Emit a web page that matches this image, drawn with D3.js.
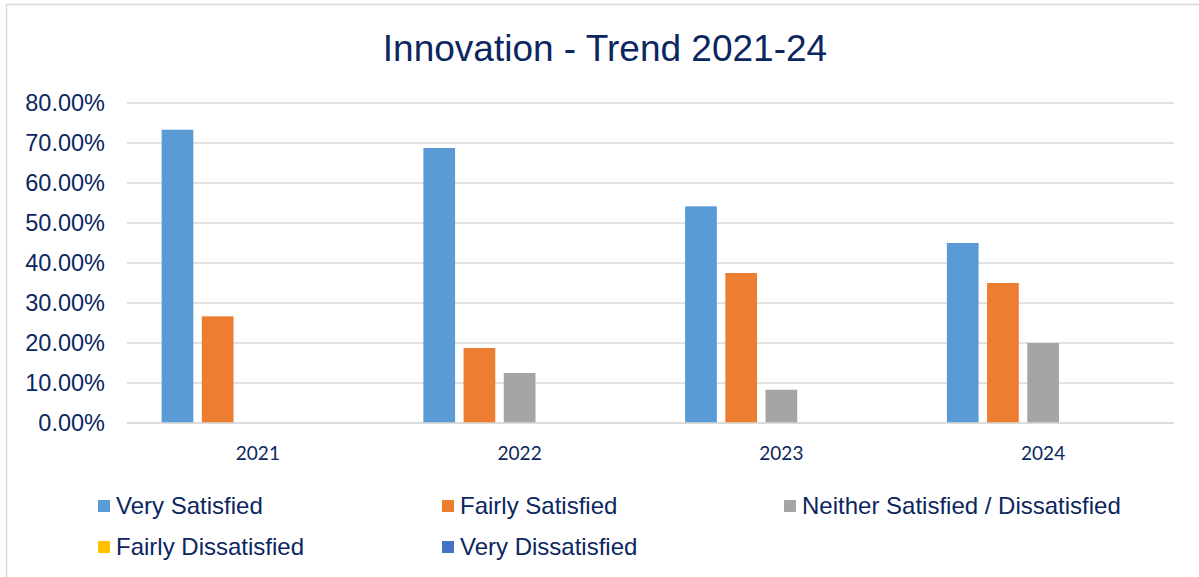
<!DOCTYPE html>
<html>
<head>
<meta charset="utf-8">
<script src="https://cdn.jsdelivr.net/npm/d3@7"></script>
<style>
  html, body { margin: 0; padding: 0; background: #ffffff; }
  svg { display: block; }
</style>
</head>
<body>
<svg id="chart" width="1199" height="577"></svg>
<script>
// Survey response shares per year (fractions of respondents)
const years = ["2021", "2022", "2023", "2024"];
const seriesNames = [
  "Very Satisfied",
  "Fairly Satisfied",
  "Neither Satisfied / Dissatisfied",
  "Fairly Dissatisfied",
  "Very Dissatisfied"
];
const verySatisfied    = [0.7333, 0.6875, 0.5417, 0.45];
const fairlySatisfied  = [0.2667, 0.1875, 0.375, 0.35];
const neither          = [0, 0.125, 0.0833, 0.20];
const fairlyDissatisfied = [0, 0, 0, 0];
const veryDissatisfied   = [0, 0, 0, 0];
const yTicks = [0, 0.1, 0.2, 0.3, 0.4, 0.5, 0.6, 0.7, 0.8];
const seriesColors = ["#5B9BD5", "#ED7D31", "#A5A5A5", "#FFC000", "#4472C4"];

const seriesValues = [verySatisfied, fairlySatisfied, neither, fairlyDissatisfied, veryDissatisfied];

const svg = d3.select("#chart");
const W = 1199, H = 577;
const navy = "#0c2660";

// Chart frame
svg.append("rect")
  .attr("x", 6.5).attr("y", 4.5)
  .attr("width", W + 10).attr("height", H + 10)
  .attr("fill", "#ffffff")
  .attr("stroke", "#d9d9d9").attr("stroke-width", 1.5);

// Title
svg.append("text")
  .attr("x", 605).attr("y", 61)
  .attr("text-anchor", "middle")
  .attr("font-family", "'Liberation Sans', Arial, sans-serif")
  .attr("font-size", 37)
  .attr("fill", navy)
  .text("Innovation - Trend 2021-24");

const plot = { left: 127, right: 1174, top: 103, bottom: 423 };

const y = d3.scaleLinear().domain([0, 0.8]).range([plot.bottom, plot.top]);
const x0 = d3.scaleBand().domain(years).range([plot.left, plot.right]).paddingInner(0).paddingOuter(0);
const groupSpan = 192.5;
const inset = (x0.bandwidth() - groupSpan) / 2;
const x1 = d3.scaleBand().domain(seriesNames)
  .range([inset, inset + groupSpan]).paddingInner(0.211).paddingOuter(0);

// Gridlines
svg.append("g")
  .selectAll("line")
  .data(yTicks)
  .join("line")
  .attr("x1", plot.left).attr("x2", plot.right)
  .attr("y1", d => y(d)).attr("y2", d => y(d))
  .attr("stroke", "#d9d9d9").attr("stroke-width", 1.5);

// Y axis labels
const yAxis = d3.axisLeft(y).tickValues(yTicks).tickSize(0).tickPadding(0)
  .tickFormat(d => (d * 100).toFixed(2) + "%");
svg.append("g")
  .attr("transform", `translate(${plot.left - 22},0)`)
  .call(yAxis)
  .call(g => g.select(".domain").remove())
  .call(g => g.selectAll("text")
    .attr("font-family", "'Liberation Sans', Arial, sans-serif")
    .attr("font-size", 23.5)
    .attr("fill", navy));

// Bars
const groups = svg.append("g")
  .selectAll("g")
  .data(years)
  .join("g")
  .attr("transform", d => `translate(${x0(d)},0)`);

groups.selectAll("rect")
  .data((yr, i) => seriesNames.map((s, k) => ({ series: s, value: seriesValues[k][i], color: seriesColors[k] })))
  .join("rect")
  .attr("x", d => x1(d.series))
  .attr("width", x1.bandwidth())
  .attr("y", d => y(d.value))
  .attr("height", d => y(0) - y(d.value))
  .attr("fill", d => d.color);

// Axis baseline
svg.append("line")
  .attr("x1", plot.left).attr("x2", plot.right)
  .attr("y1", y(0)).attr("y2", y(0))
  .attr("stroke", "#d9d9d9").attr("stroke-width", 1.5);

// X axis labels
const xAxis = d3.axisBottom(x0).tickSize(0).tickPadding(0);
svg.append("g")
  .attr("transform", `translate(0,${plot.bottom + 23})`)
  .call(xAxis)
  .call(g => g.select(".domain").remove())
  .call(g => g.selectAll("text")
    .attr("font-family", "Lato, 'Open Sans', sans-serif")
    .attr("font-size", 19)
    .attr("fill", navy));

// Legend
const legendPos = [
  { x: 98, y: 500 }, { x: 442, y: 500 }, { x: 784, y: 500 },
  { x: 98, y: 541 }, { x: 442, y: 541 }
];
const legend = svg.append("g")
  .selectAll("g")
  .data(seriesNames)
  .join("g")
  .attr("transform", (d, i) => `translate(${legendPos[i].x},${legendPos[i].y})`);
legend.append("rect")
  .attr("width", 12).attr("height", 12)
  .attr("fill", (d, i) => seriesColors[i]);
legend.append("text")
  .attr("x", 18).attr("y", 14)
  .attr("font-family", "'Liberation Sans', Arial, sans-serif")
  .attr("font-size", 24)
  .attr("fill", navy)
  .text(d => d);
</script>
</body>
</html>
